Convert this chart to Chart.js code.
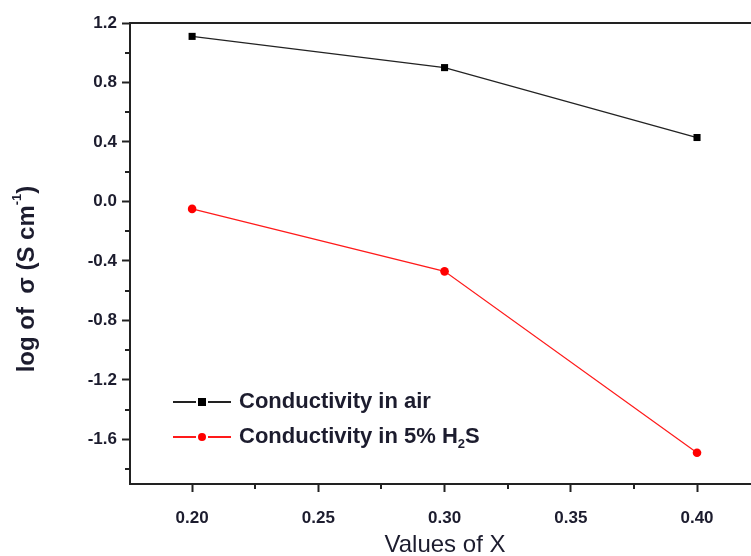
<!DOCTYPE html>
<html>
<head>
<meta charset="utf-8">
<script src="https://cdn.jsdelivr.net/npm/chart.js@4/dist/chart.umd.min.js"></script>
<style>
  html, body { margin: 0; padding: 0; background: #fff; }
  #chart_conductivity { display: block; }
</style>
</head>
<body>
<canvas id="chart_conductivity" width="751" height="556"></canvas>
<script>
// values
const xValues = [0.20, 0.30, 0.40];
const airValues = [1.11, 0.90, 0.43];
const h2sValues = [-0.05, -0.47, -1.69];
const xTickValues = [0.20, 0.25, 0.30, 0.35, 0.40];
const xMinorTicks = [0.225, 0.275, 0.325, 0.375];
const yTickValues = [-1.6, -1.2, -0.8, -0.4, 0.0, 0.4, 0.8, 1.2];
const yMinorTicks = [-1.8, -1.4, -1.0, -0.6, -0.2, 0.2, 0.6, 1.0];
const seriesNames = ['Conductivity in air', 'Conductivity in 5% H'];

const FONT = '"Liberation Sans", Arial, sans-serif';
const AXIS_COLOR = '#222';
const TEXT_COLOR = '#1c1c2e';

function toPoints(ys) {
    return xValues.map((x, i) => ({ x: x, y: ys[i] }));
}

var chart_conductivity = new Chart(document.getElementById('chart_conductivity'), {
    type: 'line',
    data: {
        datasets: [
            {
                label: seriesNames[0],
                data: toPoints(airValues),
                borderColor: '#222',
                backgroundColor: '#000',
                borderWidth: 1.3,
                pointStyle: 'rect',
                pointRadius: 5,
                pointBorderWidth: 0,
                tension: 0
            },
            {
                label: seriesNames[1],
                data: toPoints(h2sValues),
                borderColor: '#ff1a1a',
                backgroundColor: '#ff0000',
                borderWidth: 1.2,
                pointStyle: 'circle',
                pointRadius: 4.3,
                pointBorderWidth: 0,
                tension: 0
            }
        ]
    },
    options: {
        animation: false,
        responsive: false,
        layout: { padding: { top: 23, right: 0, left: 0, bottom: 0 } },
        plugins: {
            legend: { display: false },
            tooltip: { enabled: false }
        },
        scales: {
            x: {
                type: 'linear',
                min: 0.1754,
                max: 0.4194,
                afterBuildTicks: (scale) => { scale.ticks = xTickValues.map(v => ({ value: v })); },
                afterFit: (scale) => { scale.height = 72; },
                grid: {
                    drawOnChartArea: false,
                    drawTicks: true,
                    tickLength: 8,
                    tickWidth: 2,
                    tickColor: AXIS_COLOR
                },
                border: { display: true, color: AXIS_COLOR, width: 2 },
                ticks: {
                    padding: 16,
                    color: TEXT_COLOR,
                    font: { family: FONT, size: 17, weight: 'bold' },
                    callback: (v) => Number(v).toFixed(2)
                }
            },
            y: {
                type: 'linear',
                min: -1.9,
                max: 1.2,
                afterBuildTicks: (scale) => { scale.ticks = yTickValues.map(v => ({ value: v })); },
                afterFit: (scale) => { scale.width = 130; },
                grid: {
                    drawOnChartArea: false,
                    drawTicks: true,
                    tickLength: 8,
                    tickWidth: 2,
                    tickColor: AXIS_COLOR
                },
                border: { display: true, color: AXIS_COLOR, width: 2 },
                ticks: {
                    padding: 5,
                    color: TEXT_COLOR,
                    font: { family: FONT, size: 17, weight: 'bold' },
                    callback: (v) => Number(v).toFixed(1)
                }
            }
        }
    },
    plugins: [{
        id: 'originStyle',
        beforeDraw: (chart) => {
            const ctx = chart.ctx;
            ctx.save();
            ctx.fillStyle = 'white';
            ctx.fillRect(0, 0, chart.width, chart.height);
            ctx.restore();
        },
        afterDraw: (chart) => {
            const ctx = chart.ctx;
            const area = chart.chartArea;
            const xs = chart.scales.x, ys = chart.scales.y;
            ctx.save();

            // top frame line and bottom axis run to the cropped right edge
            ctx.strokeStyle = AXIS_COLOR;
            ctx.lineWidth = 2;
            ctx.beginPath();
            ctx.moveTo(area.left - 1, area.top);
            ctx.lineTo(chart.width, area.top);
            ctx.moveTo(area.right - 1, area.bottom);
            ctx.lineTo(chart.width, area.bottom);
            ctx.stroke();

            // minor ticks
            xMinorTicks.forEach(v => {
                const px = Math.round(xs.getPixelForValue(v));
                ctx.beginPath();
                ctx.moveTo(px, area.bottom);
                ctx.lineTo(px, area.bottom + 5);
                ctx.stroke();
            });
            yMinorTicks.forEach(v => {
                const py = Math.round(ys.getPixelForValue(v));
                ctx.beginPath();
                ctx.moveTo(area.left, py);
                ctx.lineTo(area.left - 5, py);
                ctx.stroke();
            });

            // legend
            const rows = [402, 437];
            chart.data.datasets.forEach((ds, i) => {
                const y = rows[i];
                ctx.strokeStyle = ds.borderColor;
                ctx.lineWidth = 2;
                ctx.beginPath();
                ctx.moveTo(173, y);
                ctx.lineTo(196, y);
                ctx.moveTo(208, y);
                ctx.lineTo(231, y);
                ctx.stroke();
                ctx.fillStyle = ds.backgroundColor;
                if (ds.pointStyle === 'rect') {
                    ctx.fillRect(198, y - 4, 8, 8);
                } else {
                    ctx.beginPath();
                    ctx.arc(202, y, 4, 0, Math.PI * 2);
                    ctx.fill();
                }
                ctx.fillStyle = TEXT_COLOR;
                ctx.font = 'bold 22px ' + FONT;
                ctx.textBaseline = 'middle';
                ctx.textAlign = 'left';
                ctx.fillText(ds.label, 239, y);
                if (i === 1) {
                    let x = 239 + ctx.measureText(ds.label).width;
                    ctx.font = 'bold 13px ' + FONT;
                    ctx.fillText('2', x, y + 7);
                    x += ctx.measureText('2').width;
                    ctx.font = 'bold 22px ' + FONT;
                    ctx.fillText('S', x, y);
                }
            });

            // x title
            ctx.fillStyle = TEXT_COLOR;
            ctx.font = '24px ' + FONT;
            ctx.textAlign = 'center';
            ctx.textBaseline = 'middle';
            ctx.fillText('Values of X', 445, 545);

            // y title, rotated, with superscript -1
            ctx.translate(27, 279);
            ctx.rotate(-Math.PI / 2);
            const main = 'log of  \u03c3 (S cm';
            const sup = '-1';
            const close = ')';
            ctx.font = 'bold 24px ' + FONT;
            const wMain = ctx.measureText(main).width;
            const wClose = ctx.measureText(close).width;
            ctx.font = 'bold 13px ' + FONT;
            const wSup = ctx.measureText(sup).width;
            let x0 = -(wMain + wSup + wClose) / 2;
            ctx.textAlign = 'left';
            ctx.font = 'bold 24px ' + FONT;
            ctx.fillText(main, x0, 0);
            ctx.font = 'bold 13px ' + FONT;
            ctx.fillText(sup, x0 + wMain, -10);
            ctx.font = 'bold 24px ' + FONT;
            ctx.fillText(close, x0 + wMain + wSup, 0);

            ctx.restore();
        }
    }]
});
</script>
</body>
</html>
